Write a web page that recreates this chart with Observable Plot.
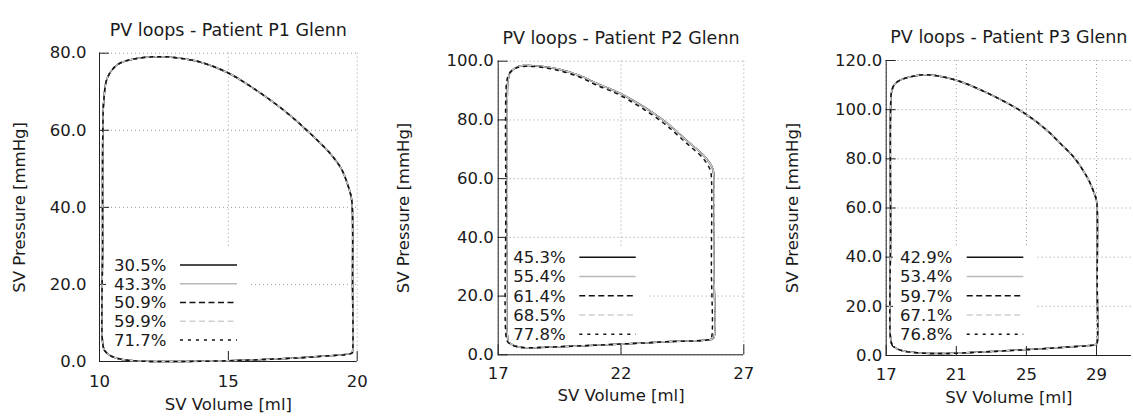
<!DOCTYPE html>
<html>
<head>
<meta charset="utf-8">
<script src="https://cdn.jsdelivr.net/npm/d3@7"></script>
<script src="https://cdn.jsdelivr.net/npm/@observablehq/plot@0.6"></script>
<style>
  body { margin: 0; background: #fff; }
  #chart { position: relative; width: 1133px; height: 419px; overflow: hidden; background: #fff; }
  #chart svg.panel { position: absolute; top: 0; }
  #legend { position: absolute; left: 0; top: 0; pointer-events: none; }
</style>
</head>
<body>
<div id="chart"></div>
<script>
// ---------------- DATA ----------------
// Patient P1
const p1Labels = ["30.5%", "43.3%", "50.9%", "59.9%", "71.7%"];
const p1XTicks = [10, 15, 20];
const p1YTicks = [0, 20, 40, 60, 80];
const p1Volume   = [10.12, 10.2, 10.4, 10.7, 11.1, 11.8, 13.0, 15.0, 17.0, 18.5, 19.8, 19.82, 19.82, 19.8, 19.74, 19.6, 19.4, 18.96, 18.06, 17.15, 15.86, 14.96, 13.9, 13.0, 12.24, 11.33, 10.69, 10.3, 10.17, 10.13, 10.12];
const p1Pressure = [5.0, 2.8, 1.6, 0.8, 0.3, 0.05, 0.0, 0.2, 0.7, 1.3, 2.2, 2.6, 20, 41, 43.5, 46.5, 49.8, 53.9, 59.9, 65.2, 71.4, 75.0, 77.7, 78.8, 79.1, 78.5, 77.0, 73.5, 68, 60, 30];

// Patient P2 (the 77.8% loop sits slightly inside the others)
const p2Labels = ["45.3%", "55.4%", "61.4%", "68.5%", "77.8%"];
const p2XTicks = [17, 22, 27];
const p2YTicks = [0, 20, 40, 60, 80, 100];
const p2Volume   = [17.37, 17.42, 17.6, 17.9, 18.3, 19.0, 20.5, 22.1, 24.0, 25.7, 25.78, 25.78, 25.78, 25.74, 25.6, 25.37, 24.7, 23.74, 22.0, 21.04, 20.35, 19.4, 18.6, 18.04, 17.77, 17.5, 17.4, 17.37, 17.37];
const p2Pressure = [7, 4.6, 3.3, 2.6, 2.4, 2.6, 3.1, 3.7, 4.5, 5.3, 5.8, 30, 61, 63.2, 65.5, 67.9, 72.8, 79.8, 88.9, 92.3, 95.0, 97.4, 98.4, 98.5, 98.0, 96.3, 93.5, 88, 50];
const p2VolumeHigh   = [17.31, 17.37, 17.56, 17.9, 18.3, 19.0, 20.5, 22.1, 24.0, 25.62, 25.68, 25.68, 25.68, 25.64, 25.5, 25.28, 24.62, 23.66, 21.94, 20.98, 20.31, 19.37, 18.57, 18.02, 17.74, 17.46, 17.35, 17.31, 17.31];
const p2PressureHigh = [7, 4.6, 3.3, 2.6, 2.4, 2.6, 3.1, 3.7, 4.5, 5.25, 5.75, 30, 60.6, 62.8, 65.1, 67.5, 72.4, 79.4, 88.5, 91.9, 94.6, 97.0, 98.1, 98.2, 97.7, 96.0, 93.2, 88, 50];

// Patient P3
const p3Labels = ["42.9%", "53.4%", "59.7%", "67.1%", "76.8%"];
const p3XTicks = [17, 21, 25, 29];
const p3YTicks = [0, 20, 40, 60, 80, 100, 120];
const p3Volume   = [17.25, 17.35, 17.6, 18.0, 18.77, 19.8, 20.86, 23.0, 25.05, 27.0, 29.0, 29.04, 29.04, 29.04, 29.0, 28.94, 28.75, 28.47, 27.7, 26.95, 26.19, 24.9, 23.0, 20.95, 19.34, 18.77, 17.82, 17.45, 17.3, 17.25, 17.25];
const p3Pressure = [7, 4.2, 2.8, 1.8, 1.1, 0.8, 0.9, 1.6, 2.4, 3.3, 4.6, 5.2, 30, 60, 63, 64.6, 68.2, 72.5, 80.7, 86.1, 91.5, 98.5, 106.0, 112.1, 114.2, 113.9, 112.1, 110.0, 107.0, 100, 50];

// ---------------- STYLES ----------------
const seriesStyles = [
  { stroke: "#111", dash: null },
  { stroke: "#b8b8b8", dash: null },
  { stroke: "#111", dash: "6,3.5" },
  { stroke: "#cfcfcf", dash: "6,3.5" },
  { stroke: "#111", dash: "3,5" }
];
const FONT = "'DejaVu Sans', sans-serif";
const TEXT = "#1a1a1a";
const FS = 16.5;

const panels = [
  {
    title: "PV loops - Patient P1 Glenn", left: 0, width: 372,
    ml: 99, mr: 15.3, mt: 52.7, mb: 58,
    xDomain: [10, 20], yDomain: [0, 80], xTicks: p1XTicks, yTicks: p1YTicks,
    xPad: 14, yPad: 13, titleDy: -29.4, xLabelDy: 48, yLabelDx: -80,
    series: p1Labels.map(l => ({ label: l, vol: p1Volume, pres: p1Pressure })),
    legend: { bx: 106, by: 247, bw: 142, bh: 103, tx: 114, lx1: 180, lx2: 237, y0: 265, step: 18.75 }
  },
  {
    title: "PV loops - Patient P2 Glenn", left: 380, width: 380,
    ml: 117.7, mr: 16.7, mt: 60.7, mb: 64.7,
    xDomain: [17, 27], yDomain: [0, 100], xTicks: p2XTicks, yTicks: p2YTicks,
    xPad: 12.4, yPad: 4.5, titleDy: -29.8, xLabelDy: 46.5, yLabelDx: -94,
    series: p2Labels.map((l, i) => i < 4
      ? ({ label: l, vol: p2Volume, pres: p2Pressure })
      : ({ label: l, vol: p2VolumeHigh, pres: p2PressureHigh })),
    legend: { bx: 509, by: 248, bw: 138, bh: 94, tx: 513.3, lx1: 579.3, lx2: 635.7, y0: 257.3, step: 19.25 }
  },
  {
    title: "PV loops - Patient P3 Glenn", left: 760, width: 373,
    ml: 125.7, mr: 1.95, mt: 60, mb: 64,
    xDomain: [17, 31], yDomain: [0, 120], xTicks: p3XTicks, yTicks: p3YTicks,
    xPad: 13, yPad: 4, titleDy: -29.8, xLabelDy: 47.5, yLabelDx: -93,
    series: p3Labels.map(l => ({ label: l, vol: p3Volume, pres: p3Pressure })),
    legend: { bx: 893, by: 247, bw: 143.7, bh: 99, tx: 900, lx1: 966.7, lx2: 1023.3, y0: 257.3, step: 19.25 }
  }
];

const chart = document.getElementById("chart");

function makePanel(cfg) {
  const fw = cfg.width - cfg.ml - cfg.mr;
  const fh = 419 - cfg.mt - cfg.mb;
  const gridStyle = { stroke: "#9c9c9c", strokeOpacity: 1, strokeDasharray: "1,3", strokeWidth: 1 };
  const marks = [
    Plot.gridX(cfg.xTicks, gridStyle),
    Plot.gridY(cfg.yTicks, gridStyle),
    Plot.axisX(cfg.xTicks, { tickSize: 0, tickPadding: cfg.xPad, tickFormat: d3.format("d"), label: null, fontSize: FS, fill: TEXT }),
    Plot.axisY(cfg.yTicks, { tickSize: 0, tickPadding: cfg.yPad, tickFormat: d3.format(".1f"), label: null, fontSize: FS, fill: TEXT }),
    Plot.ruleX([cfg.xDomain[0]], { stroke: "#222" }),
    Plot.ruleY([cfg.yDomain[0]], { stroke: "#222" }),
    Plot.ruleX(cfg.xTicks, { stroke: "#222", insetTop: fh - 10 }),
    Plot.ruleY(cfg.yTicks, { stroke: "#222", insetRight: fw - 10 }),
    ...cfg.series.map((s, i) => Plot.line(
      s.vol.map((v, j) => ({ v, p: s.pres[j] })),
      {
        x: "v", y: "p", curve: "catmull-rom-closed",
        stroke: seriesStyles[i].stroke, strokeWidth: 1.5,
        strokeDasharray: seriesStyles[i].dash || undefined
      }
    )),
    Plot.text([cfg.title], { text: d => d, frameAnchor: "top", dy: cfg.titleDy, fontSize: 17.5, fill: TEXT }),
    Plot.text(["SV Volume [ml]"], { text: d => d, frameAnchor: "bottom", dy: cfg.xLabelDy, fontSize: FS, fill: TEXT }),
    Plot.text(["SV Pressure [mmHg]"], { text: d => d, frameAnchor: "left", textAnchor: "middle", dx: cfg.yLabelDx, rotate: -90, fontSize: FS, fill: TEXT })
  ];
  const svg = Plot.plot({
    width: cfg.width, height: 419,
    marginLeft: cfg.ml, marginRight: cfg.mr, marginTop: cfg.mt, marginBottom: cfg.mb,
    x: { domain: cfg.xDomain },
    y: { domain: cfg.yDomain },
    style: { fontFamily: FONT, fontSize: FS + "px", color: TEXT, background: "transparent", overflow: "visible" },
    marks
  });
  svg.classList.add("panel");
  svg.style.left = cfg.left + "px";
  svg.style.maxWidth = "none";
  chart.appendChild(svg);
}

panels.forEach(makePanel);

// ---------------- LEGENDS ----------------
const lsvg = d3.select(chart).append("svg")
  .attr("id", "legend").attr("width", 1133).attr("height", 419);
panels.forEach(cfg => {
  const L = cfg.legend;
  const g = lsvg.append("g");
  g.append("rect").attr("x", L.bx).attr("y", L.by).attr("width", L.bw).attr("height", L.bh).attr("fill", "#fff");
  cfg.series.forEach((s, i) => {
    const y = L.y0 + i * L.step;
    g.append("text").attr("x", L.tx).attr("y", y + 0.36 * FS)
      .attr("font-family", FONT).attr("font-size", FS).attr("fill", TEXT).text(s.label);
    g.append("line").attr("x1", L.lx1).attr("x2", L.lx2).attr("y1", y).attr("y2", y)
      .attr("stroke", seriesStyles[i].stroke).attr("stroke-width", 1.5)
      .attr("stroke-dasharray", seriesStyles[i].dash);
  });
});
</script>
</body>
</html>
